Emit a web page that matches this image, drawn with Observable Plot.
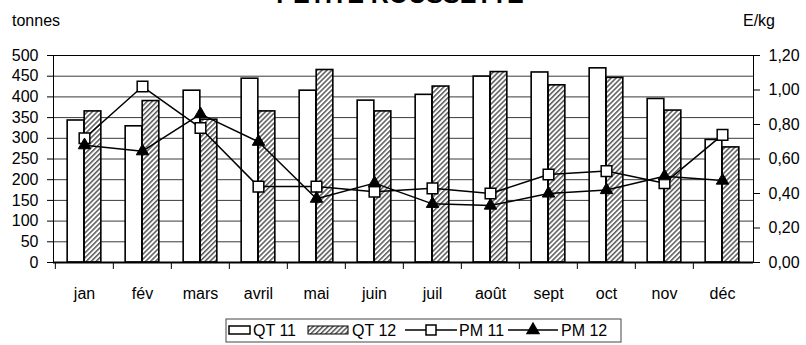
<!DOCTYPE html>
<html>
<head>
<meta charset="utf-8">
<script src="https://cdn.jsdelivr.net/npm/d3@7"></script>
<script src="https://cdn.jsdelivr.net/npm/@observablehq/plot@0.6"></script>
<style>
  html, body { margin: 0; padding: 0; background: white; }
  #chart { width: 806px; height: 345px; overflow: hidden; }
</style>
</head>
<body>
<div id="chart"></div>
<script>
const months = ["jan", "fév", "mars", "avril", "mai", "juin", "juil", "août", "sept", "oct", "nov", "déc"];
const qt11 = [343, 329, 415, 444, 415, 391, 405, 449, 459, 469, 395, 296];
const qt12 = [365, 390, 345, 365, 465, 365, 425, 460, 428, 446, 367, 278];
const pm11 = [0.72, 1.02, 0.78, 0.44, 0.44, 0.41, 0.43, 0.40, 0.51, 0.53, 0.46, 0.74];
const pm12 = [0.68, 0.645, 0.86, 0.70, 0.37, 0.46, 0.34, 0.33, 0.40, 0.42, 0.50, 0.475];
const leftTicks = [0, 50, 100, 150, 200, 250, 300, 350, 400, 450, 500];
const rightTicks = [0, 0.2, 0.4, 0.6, 0.8, 1.0, 1.2];
const title = "PETITE ROUSSETTE";
const leftUnit = "tonnes";
const rightUnit = "E/kg";
const seriesNames = ["QT 11", "QT 12", "PM 11", "PM 12"];

const data = months.map((m, i) => ({month: m, qt11: qt11[i], qt12: qt12[i], pm11: pm11[i], pm12: pm12[i]}));

const W = 806, H = 345;
const mL = 53, mR = 53, mT = 55, mB = 83;
const bw = (W - mL - mR) / months.length;
const barW = 17;
const ratio = 500 / 1.2; // right axis -> left axis
const FONT = "'Liberation Sans', Arial, sans-serif";

const plot = Plot.plot({
  width: W,
  height: H,
  marginLeft: mL, marginRight: mR, marginTop: mT, marginBottom: mB,
  style: {fontFamily: FONT, fontSize: "16px", color: "black", background: "white", overflow: "visible"},
  x: {type: "band", domain: months, padding: 0, label: null},
  y: {domain: [0, 500], label: null},
  marks: [
    Plot.gridY({ticks: leftTicks, stroke: "#3a3a3a", strokeOpacity: 1, strokeWidth: 1}),
    Plot.frame({stroke: "black", strokeWidth: 1}),
    Plot.barY(data, {x: "month", y: "qt11", fill: "white", stroke: "black", strokeWidth: 1.6,
      insetLeft: bw / 2 - barW, insetRight: bw / 2}),
    Plot.barY(data, {x: "month", y: "qt12", fill: "url(#hatch)", stroke: "black", strokeWidth: 1.6,
      insetLeft: bw / 2, insetRight: bw / 2 - barW}),
    Plot.ruleY([0], {stroke: "black", strokeWidth: 2}),
    Plot.line(data, {x: "month", y: d => d.pm11 * ratio, stroke: "black", strokeWidth: 1.5}),
    Plot.line(data, {x: "month", y: d => d.pm12 * ratio, stroke: "black", strokeWidth: 1.5}),
    Plot.dot(data, {x: "month", y: d => d.pm11 * ratio, symbol: "square", r: 6, fill: "white", stroke: "black", strokeWidth: 1.5}),
    Plot.dot(data, {x: "month", y: d => d.pm12 * ratio, symbol: "triangle", r: 4.6, fill: "black", stroke: "black", strokeWidth: 1}),
    Plot.axisY({anchor: "left", ticks: leftTicks, tickSize: 6, tickPadding: 9, tickFormat: d => String(d), label: null, stroke: "black"}),
    Plot.axisY({anchor: "right", ticks: rightTicks.map(v => v * ratio), tickSize: 6, tickPadding: 9,
      tickFormat: d => (d / ratio).toFixed(2).replace(".", ","), label: null, stroke: "black"}),
    Plot.axisX({anchor: "bottom", tickSize: 7, tickFormat: () => "", dx: -bw / 2, label: null, stroke: "black"}),
    Plot.axisX({anchor: "bottom", tickSize: 0, tickPadding: 25, label: null})
  ]
});

const svg = d3.select(plot);
// hatch pattern for QT 12
const defs = svg.insert("defs", ":first-child");
const pat = defs.append("pattern").attr("id", "hatch").attr("patternUnits", "userSpaceOnUse")
  .attr("width", 3.5).attr("height", 3.5).attr("patternTransform", "rotate(45)");
pat.append("rect").attr("width", 3.5).attr("height", 3.5).attr("fill", "white");
pat.append("line").attr("x1", 0.8).attr("y1", 0).attr("x2", 0.8).attr("y2", 3.5)
  .attr("stroke", "#3c3c3c").attr("stroke-width", 1.3);

// titles
svg.append("text").attr("x", 400).attr("y", 3).attr("text-anchor", "middle")
  .attr("font-family", FONT).attr("font-weight", "bold").attr("font-size", 25).text(title);
svg.append("text").attr("x", 12).attr("y", 26).attr("text-anchor", "start")
  .attr("font-family", FONT).attr("font-size", 16).text(leftUnit);
svg.append("text").attr("x", 743).attr("y", 26).attr("text-anchor", "start")
  .attr("font-family", FONT).attr("font-size", 16).text(rightUnit);

// legend
const lg = svg.append("g").attr("font-family", FONT).attr("font-size", 16).attr("text-anchor", "start");
const ly = 330;
lg.append("rect").attr("x", 226).attr("y", 319).attr("width", 395).attr("height", 23)
  .attr("fill", "white").attr("stroke", "#444").attr("stroke-width", 1);
lg.append("rect").attr("x", 229).attr("y", ly - 4).attr("width", 21).attr("height", 8)
  .attr("fill", "white").attr("stroke", "black").attr("stroke-width", 1.5);
lg.append("text").attr("x", 253).attr("y", ly).attr("dy", "0.35em").text(seriesNames[0]);
lg.append("rect").attr("x", 308).attr("y", ly - 4).attr("width", 40).attr("height", 8)
  .attr("fill", "url(#hatch)").attr("stroke", "black").attr("stroke-width", 1);
lg.append("text").attr("x", 352).attr("y", ly).attr("dy", "0.35em").text(seriesNames[1]);
lg.append("line").attr("x1", 405).attr("x2", 457).attr("y1", ly).attr("y2", ly).attr("stroke", "black").attr("stroke-width", 1.5);
lg.append("rect").attr("x", 426).attr("y", ly - 5).attr("width", 10).attr("height", 10)
  .attr("fill", "white").attr("stroke", "black").attr("stroke-width", 1.5);
lg.append("text").attr("x", 459).attr("y", ly).attr("dy", "0.35em").text(seriesNames[2]);
lg.append("line").attr("x1", 508).attr("x2", 558).attr("y1", ly).attr("y2", ly).attr("stroke", "black").attr("stroke-width", 1.5);
lg.append("path").attr("transform", `translate(533,${ly})`)
  .attr("d", d3.symbol(d3.symbolTriangle, 90)()).attr("fill", "black");
lg.append("text").attr("x", 561).attr("y", ly).attr("dy", "0.35em").text(seriesNames[3]);

document.getElementById("chart").appendChild(plot);
</script>
</body>
</html>
